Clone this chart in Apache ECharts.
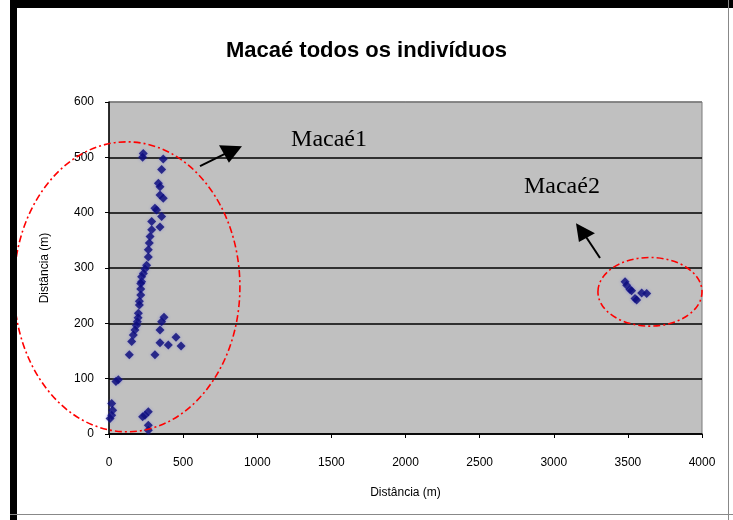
<!DOCTYPE html>
<html>
<head>
<meta charset="utf-8">
<script src="https://cdn.jsdelivr.net/npm/echarts@6/dist/echarts.min.js"></script>
<style>
  html, body { margin: 0; padding: 0; background: #fff; }
  #chart { width: 733px; height: 520px; }
</style>
</head>
<body>
<div id="chart"></div>
<script>
// Individuals sampled along the river, Macaé site (distance in metres)
const macae1 = [
  [231,507],[227,500],[366,497],[355,478],[333,453],[344,447],[344,432],[366,426],
  [310,408],[321,405],[355,393],[288,384],[288,369],[344,374],[277,357],[272,345],
  [265,333],[265,320],[254,305],[243,298],[232,290],[220,284],[220,275],[214,272],
  [214,262],[214,251],[205,240],[205,233],[198,218],[196,210],[191,203],[185,196],
  [175,188],[164,179],[153,167],[137,143],[371,211],[355,203],[344,188],[344,165],
  [400,161],[452,175],[486,159],[310,143],[63,98],[47,95],[18,55],[25,43],
  [18,34],[7,28],[265,40],[243,34],[227,31],[265,16],[265,7]
];
const macae2 = [
  [3481,275],[3492,269],[3514,261],[3525,259],[3548,245],[3559,242],[3593,255],[3627,254]
];

const xTicks = { min: 0, max: 4000, step: 500 };
const yTicks = { min: 0, max: 600, step: 100 };

const titleText = 'Macaé todos os indivíduos';
const axisName = 'Distância (m)';
const groupLabels = ['Macaé1', 'Macaé2'];

// Group outlines (centre and radii in data units) and pointer arrows
const groupRings = [
  { c: [121, 266], r: [762, 262] },
  { c: [3649, 257], r: [351, 62] }
];
const arrows = [
  { tail: [614, 484], head: [[742, 522], [897, 520], [809, 490]] },
  { tail: [3312, 318], head: [[3150, 381], [3278, 363], [3170, 347]] }
];
const labelAnchors = [[1228, 510], [2799, 426]];

const chart = echarts.init(document.getElementById('chart'));

const dotStyle = {
  color: '#0a0a78',
  shadowBlur: 3,
  shadowColor: 'rgba(90,90,230,0.5)'
};
const labelFont = 'Liberation Sans, Arial, sans-serif';

chart.setOption({
  backgroundColor: '#ffffff',
  animation: false,
  title: {
    text: titleText,
    left: 'center',
    top: 35,
    textStyle: {
      fontFamily: labelFont,
      fontWeight: 'bold',
      fontSize: 22,
      color: '#000'
    }
  },
  grid: {
    left: 109, right: 31, top: 102, bottom: 86,
    show: true,
    backgroundColor: '#c0c0c0',
    borderColor: '#7a7a7a',
    borderWidth: 1
  },
  xAxis: {
    type: 'value',
    min: xTicks.min, max: xTicks.max, interval: xTicks.step,
    name: axisName,
    nameLocation: 'middle',
    nameGap: 53,
    nameTextStyle: { fontFamily: labelFont, fontSize: 12, color: '#000' },
    axisLine: { show: true, lineStyle: { color: '#000', width: 1.5 } },
    axisTick: { show: true, inside: false, length: 4, lineStyle: { color: '#000' } },
    axisLabel: {
      margin: 23, fontFamily: labelFont, fontSize: 12, color: '#000',
      formatter: function (v) { return String(v); }
    },
    splitLine: { show: false }
  },
  yAxis: {
    type: 'value',
    min: yTicks.min, max: yTicks.max, interval: yTicks.step,
    name: axisName,
    nameLocation: 'middle',
    nameGap: 58,
    nameTextStyle: { fontFamily: labelFont, fontSize: 12, color: '#000' },
    axisLine: { show: true, lineStyle: { color: '#000', width: 1.5 } },
    axisTick: { show: true, inside: false, length: 4, lineStyle: { color: '#000' } },
    axisLabel: {
      margin: 15, fontFamily: labelFont, fontSize: 12, color: '#000',
      formatter: function (v) { return String(v); }
    },
    splitLine: {
      show: true,
      lineStyle: { color: ['#000', '#000', '#000', '#000', '#000', '#000', '#7a7a7a'], width: 1.6 }
    }
  },
  series: [
    { name: groupLabels[0], type: 'scatter', symbol: 'diamond', symbolSize: 9, itemStyle: dotStyle, data: macae1 },
    { name: groupLabels[1], type: 'scatter', symbol: 'diamond', symbolSize: 9, itemStyle: dotStyle, data: macae2 }
  ]
});

// Annotation layer: dash-dot rings around each group, arrows and group names
function px(p) { return chart.convertToPixel({ gridIndex: 0 }, p); }

const extras = [];
groupRings.forEach(function (g) {
  const c = px(g.c);
  const e = px([g.c[0] + g.r[0], g.c[1] + g.r[1]]);
  extras.push({
    type: 'ellipse',
    shape: { cx: c[0], cy: c[1], rx: Math.abs(e[0] - c[0]), ry: Math.abs(c[1] - e[1]) },
    style: { fill: null, stroke: '#ff0000', lineWidth: 1.6, lineDash: [7, 3, 2, 3] },
    z: 10
  });
});
arrows.forEach(function (a) {
  const t = px(a.tail);
  const h = a.head.map(px);
  const mid = [(h[0][0] + h[1][0] + h[2][0]) / 3, (h[0][1] + h[1][1] + h[2][1]) / 3];
  extras.push({
    type: 'line',
    shape: { x1: t[0], y1: t[1], x2: mid[0], y2: mid[1] },
    style: { stroke: '#000', lineWidth: 2 },
    z: 10
  });
  extras.push({
    type: 'polygon',
    shape: { points: h },
    style: { fill: '#000' },
    z: 10
  });
});
labelAnchors.forEach(function (p, i) {
  const q = px(p);
  extras.push({
    type: 'text',
    x: q[0], y: q[1],
    style: {
      text: groupLabels[i],
      font: '24px "Liberation Serif", "Times New Roman", serif',
      fill: '#000',
      textAlign: 'left',
      textVerticalAlign: 'bottom'
    },
    z: 10
  });
});
// Page frame
extras.push({ type: 'rect', shape: { x: 10, y: 0, width: 7, height: 520 }, style: { fill: '#000' }, z: 20 });
extras.push({ type: 'rect', shape: { x: 10, y: 0, width: 723, height: 8 }, style: { fill: '#000' }, z: 20 });
extras.push({ type: 'rect', shape: { x: 728, y: 0, width: 1, height: 520 }, style: { fill: '#888' }, z: 20 });
extras.push({ type: 'rect', shape: { x: 10, y: 514, width: 723, height: 1 }, style: { fill: '#888' }, z: 20 });

chart.setOption({ graphic: extras });
</script>
</body>
</html>
